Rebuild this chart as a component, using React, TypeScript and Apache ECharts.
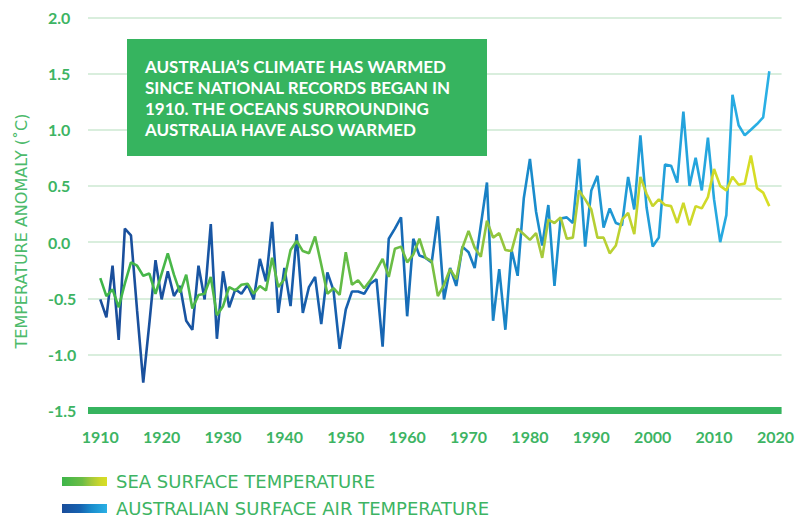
import React, { useEffect, useRef } from "react";
import * as echarts from "echarts";

const startYear = 1910;

const airTemp = [
  -0.51, -0.67, -0.21, -0.87, 0.12, 0.06, -0.61, -1.25, -0.72, -0.16,
  -0.51, -0.26, -0.48, -0.39, -0.7, -0.78, -0.21, -0.51, 0.16, -0.86,
  -0.26, -0.58, -0.42, -0.46, -0.38, -0.51, -0.15, -0.35, 0.18, -0.63,
  -0.23, -0.57, 0.07, -0.63, -0.4, -0.31, -0.73, -0.27, -0.43, -0.95,
  -0.6, -0.44, -0.44, -0.46, -0.37, -0.33, -0.93, 0.03, 0.12, 0.22,
  -0.66, 0.03, -0.12, -0.14, -0.18, 0.23, -0.51, -0.23, -0.39, -0.04,
  -0.09, -0.23, 0.15, 0.53, -0.7, -0.24, -0.78, -0.07, -0.3, 0.39,
  0.74, 0.27, -0.03, 0.33, -0.39, 0.21, 0.22, 0.17, 0.74, -0.04,
  0.46, 0.59, 0.13, 0.3, 0.17, 0.15, 0.58, 0.29, 0.95, 0.31,
  -0.04, 0.04, 0.69, 0.68, 0.53, 1.16, 0.5, 0.75, 0.46, 0.93,
  0.38, 0.0, 0.24, 1.31, 1.04, 0.95, 1.0, 1.05, 1.11, 1.52,
];

const seaTemp = [
  -0.32, -0.48, -0.42, -0.58, -0.37, -0.18, -0.21, -0.3, -0.28, -0.46,
  -0.28, -0.1, -0.29, -0.45, -0.29, -0.59, -0.47, -0.46, -0.31, -0.65,
  -0.57, -0.4, -0.43, -0.38, -0.37, -0.46, -0.39, -0.43, -0.14, -0.4,
  -0.33, -0.07, 0.01, -0.08, -0.1, 0.05, -0.2, -0.46, -0.41, -0.47,
  -0.09, -0.38, -0.34, -0.41, -0.34, -0.25, -0.15, -0.31, -0.06, -0.04,
  -0.18, -0.11, 0.03, -0.14, -0.17, -0.48, -0.38, -0.24, -0.33, -0.05,
  0.1, -0.05, -0.13, 0.19, 0.04, 0.08, -0.07, -0.08, 0.12, 0.07,
  0.02, 0.08, -0.14, 0.2, 0.17, 0.22, 0.03, 0.04, 0.46, 0.38,
  0.29, 0.04, 0.04, -0.1, -0.03, 0.2, 0.26, 0.07, 0.58, 0.43,
  0.32, 0.38, 0.33, 0.32, 0.17, 0.35, 0.15, 0.32, 0.3, 0.4,
  0.65, 0.5, 0.46, 0.58, 0.51, 0.52, 0.77, 0.48, 0.44, 0.32,
];

const xTickLabels = [1910, 1920, 1930, 1940, 1950, 1960, 1970, 1980, 1990, 2000, 2010, 2020];

const titleLines = [
  "AUSTRALIA’S CLIMATE HAS WARMED",
  "SINCE NATIONAL RECORDS BEGAN IN",
  "1910. THE OCEANS SURROUNDING",
  "AUSTRALIA HAVE ALSO WARMED",
];

const seriesNames = ["SEA SURFACE TEMPERATURE", "AUSTRALIAN SURFACE AIR TEMPERATURE"];
const yAxisTitle = "TEMPERATURE ANOMALY (˚C)";

const GREEN = "#36b45f";
const LABEL_GREEN = "#3db463";

const seaGradient = () =>
  new echarts.graphic.LinearGradient(0, 0, 1, 0, [
    { offset: 0, color: "#3db54a" },
    { offset: 0.45, color: "#6cbd45" },
    { offset: 0.65, color: "#a4c93b" },
    { offset: 0.85, color: "#ccd72b" },
    { offset: 1, color: "#d8de25" },
  ]);

const airGradient = () =>
  new echarts.graphic.LinearGradient(0, 0, 1, 0, [
    { offset: 0, color: "#1a4d9a" },
    { offset: 0.4, color: "#1662b0" },
    { offset: 0.65, color: "#1a8ccc" },
    { offset: 1, color: "#2ab0e5" },
  ]);

export default function App() {
  const ref = useRef<HTMLDivElement>(null);

  useEffect(() => {
    if (!ref.current) return;
    const chart = echarts.init(ref.current, null, { renderer: "svg" });

    const airData = airTemp.map((v, i) => [startYear + i, v]);
    const seaData = seaTemp.map((v, i) => [startYear + i, v]);

    chart.setOption({
      animation: false,
      backgroundColor: "#ffffff",
      grid: { left: 88, right: 13, top: 17.3, bottom: 107.3 },
      xAxis: {
        type: "value",
        min: 1908,
        max: 2021,
        splitLine: { show: false },
        axisTick: { show: false },
        axisLine: { onZero: false, lineStyle: { color: GREEN, width: 7, cap: "butt" } },
        axisLabel: {
          customValues: xTickLabels,
          formatter: (v: number) => String(v),
          color: LABEL_GREEN,
          fontFamily: "Lato",
          fontWeight: "bold",
          fontSize: 16,
          margin: 18,
        },
      },
      yAxis: {
        type: "value",
        min: -1.5,
        max: 2.0,
        interval: 0.5,
        axisLine: { show: false },
        axisTick: { show: false },
        splitLine: { lineStyle: { color: "#cde8d2", width: 1.5 } },
        axisLabel: {
          formatter: (v: number) => v.toFixed(1),
          color: LABEL_GREEN,
          fontFamily: "Lato",
          fontWeight: "bold",
          fontSize: 16,
          align: "left",
          margin: 40,
        },
      },
      series: [
        {
          name: seriesNames[1],
          type: "line",
          data: airData,
          symbol: "none",
          lineStyle: { width: 2.6, color: airGradient() },
          z: 2,
        },
        {
          name: seriesNames[0],
          type: "line",
          data: seaData,
          symbol: "none",
          lineStyle: { width: 2.6, color: seaGradient() },
          z: 3,
        },
      ],
      graphic: [
        {
          type: "rect",
          shape: { x: 127, y: 39, width: 360, height: 117 },
          style: { fill: GREEN },
          z: 100,
        },
        {
          type: "text",
          x: 145,
          y: 55.5,
          z: 101,
          style: {
            text: titleLines.join("\n"),
            fill: "#ffffff",
            font: "bold 17px Lato",
            lineHeight: 21,
            align: "left",
            verticalAlign: "top",
          },
        },
        {
          type: "text",
          x: 21,
          y: 231,
          rotation: Math.PI / 2,
          style: {
            text: yAxisTitle,
            fill: "#4cba6b",
            font: "16px 'DejaVu Sans'",
            align: "center",
            verticalAlign: "middle",
          },
        },
        {
          type: "rect",
          shape: { x: 62, y: 477, width: 45, height: 9 },
          style: { fill: seaGradient() },
        },
        {
          type: "text",
          x: 116,
          y: 481,
          style: {
            text: seriesNames[0],
            fill: LABEL_GREEN,
            font: "18px 'DejaVu Sans'",
            align: "left",
            verticalAlign: "middle",
          },
        },
        {
          type: "rect",
          shape: { x: 62, y: 504, width: 45, height: 9 },
          style: { fill: airGradient() },
        },
        {
          type: "text",
          x: 116,
          y: 508.5,
          style: {
            text: seriesNames[1],
            fill: LABEL_GREEN,
            font: "18px 'DejaVu Sans'",
            align: "left",
            verticalAlign: "middle",
          },
        },
      ],
    });

    return () => chart.dispose();
  }, []);

  return (
    <div
      ref={ref}
      style={{ position: "fixed", left: 0, top: 0, width: 797, height: 518 }}
    />
  );
}
